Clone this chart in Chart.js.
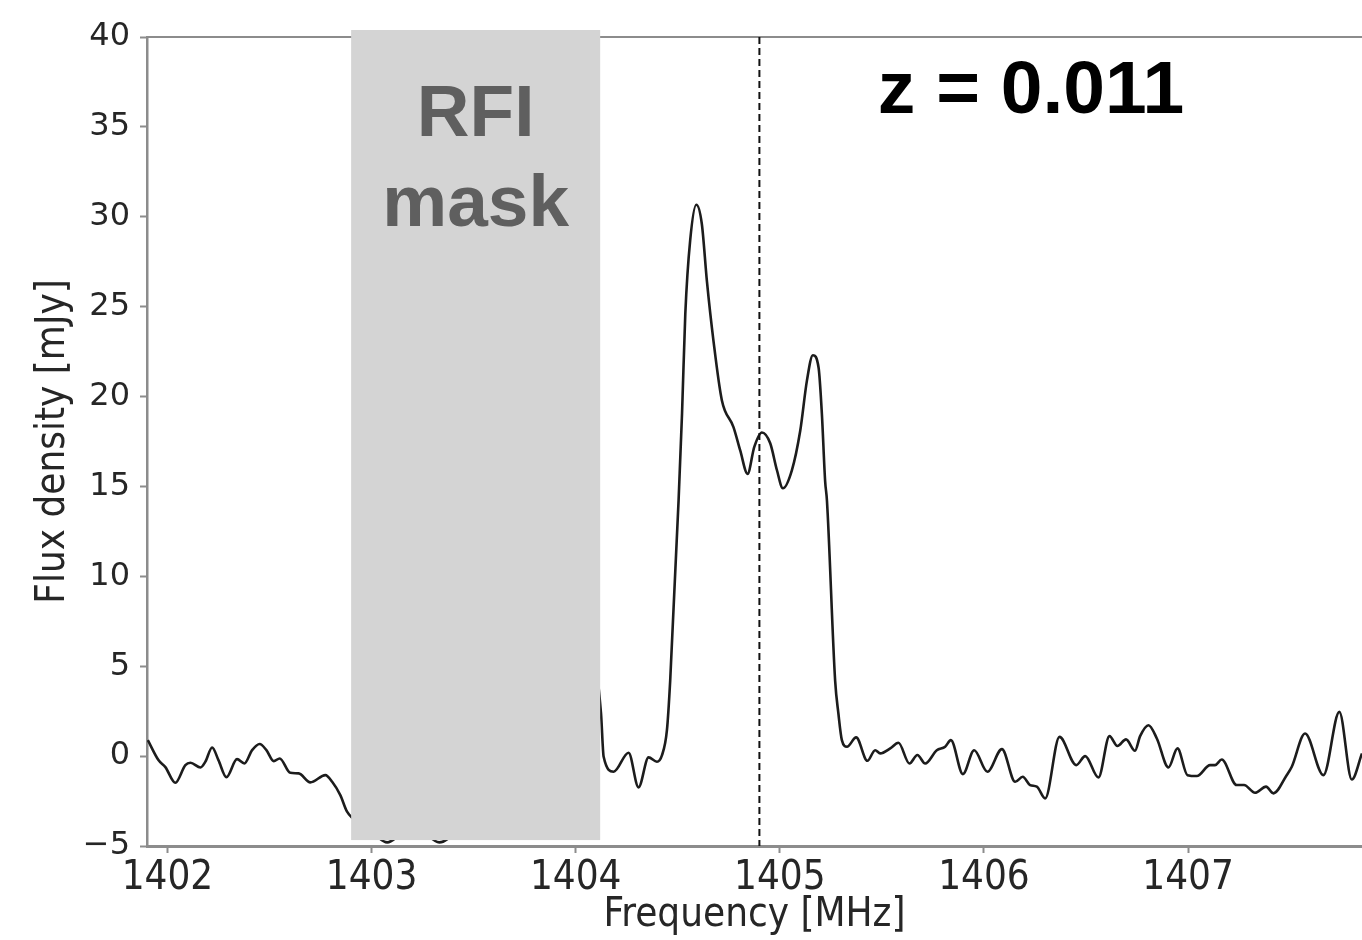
<!DOCTYPE html>
<html>
<head>
<meta charset="utf-8">
<script src="https://cdn.jsdelivr.net/npm/chart.js@4.4.1/dist/chart.umd.min.js"></script>
<style>
  html, body { margin: 0; padding: 0; background: #fff; }
  #wrap { width: 1362px; height: 940px; }
</style>
</head>
<body>
<div id="wrap"><canvas id="spectrum" width="1362" height="940"></canvas></div>
<script>
// frequency [MHz] and flux density [mJy]
const freq = [
  1401.904, 1401.956, 1401.990, 1402.039, 1402.088, 1402.113, 1402.162, 1402.186,
  1402.219, 1402.250, 1402.289, 1402.341, 1402.377, 1402.415, 1402.452, 1402.485,
  1402.521, 1402.550, 1402.602, 1402.643, 1402.700, 1402.774, 1402.807, 1402.847,
  1402.880, 1402.950, 1403.010, 1403.077, 1403.150, 1403.230, 1403.332, 1403.450,
  1403.600, 1403.750, 1403.900, 1404.020, 1404.090, 1404.124, 1404.137, 1404.186,
  1404.259, 1404.308, 1404.357, 1404.398, 1404.423, 1404.447, 1404.463, 1404.504,
  1404.521, 1404.537, 1404.561, 1404.591, 1404.618, 1404.643, 1404.675, 1404.716,
  1404.773, 1404.806, 1404.842, 1404.875, 1404.912, 1404.953, 1404.986, 1405.015,
  1405.059, 1405.100, 1405.133, 1405.162, 1405.190, 1405.206, 1405.222, 1405.231,
  1405.271, 1405.287, 1405.304, 1405.329, 1405.374, 1405.429, 1405.467, 1405.492,
  1405.541, 1405.581, 1405.635, 1405.674, 1405.712, 1405.769, 1405.810, 1405.838,
  1405.897, 1405.952, 1406.017, 1406.088, 1406.153, 1406.190, 1406.226, 1406.259,
  1406.300, 1406.370, 1406.452, 1406.496, 1406.561, 1406.615, 1406.654, 1406.696,
  1406.740, 1406.765, 1406.806, 1406.847, 1406.904, 1406.948, 1406.997, 1407.043,
  1407.108, 1407.132, 1407.165, 1407.238, 1407.274, 1407.328, 1407.382, 1407.418,
  1407.483, 1407.508, 1407.573, 1407.663, 1407.741, 1407.802, 1407.852
];
const flux = [
  0.89, -0.22, -0.61, -1.48, -0.50, -0.37, -0.63, -0.31,
  0.48, -0.22, -1.17, -0.17, -0.41, 0.33, 0.67, 0.33,
  -0.28, -0.13, -0.93, -0.96, -1.46, -1.06, -1.43, -2.17,
  -3.09, -3.80, -4.30, -4.80, -4.30, -4.10, -4.80, -3.80,
  -2.60, -1.80, -0.60, 2.00, 5.20, 2.39, -0.04, -0.87,
  0.19, -1.74, -0.07, -0.31, 0.06, 1.44, 4.20, 14.20,
  19.05, 24.60, 28.70, 30.67, 29.60, 26.40, 23.10, 19.80,
  18.30, 17.00, 15.70, 17.20, 18.00, 17.40, 15.90, 14.90,
  15.90, 18.10, 20.90, 22.30, 21.60, 19.05, 15.30, 14.20,
  4.20, 2.37, 0.89, 0.52, 1.04, -0.26, 0.33, 0.15,
  0.43, 0.74, -0.41, 0.06, -0.41, 0.33, 0.52, 0.89,
  -1.00, 0.33, -0.87, 0.39, -1.43, -1.15, -1.61, -1.70,
  -2.35, 1.07, -0.50, 0.00, -1.19, 1.11, 0.56, 0.93,
  0.30, 1.11, 1.72, 0.98, -0.63, 0.43, -1.06, -1.11,
  -0.50, -0.50, -0.19, -1.61, -1.61, -2.04, -1.70, -2.07,
  -1.06, -0.59, 1.26, -1.06, 2.46, -1.30, 0.15
];

const xTicks = [1402, 1403, 1404, 1405, 1406, 1407];
const yTicks = [-5, 0, 5, 10, 15, 20, 25, 30, 35, 40];

const maskRange = [1402.90, 1404.12];   // RFI mask, MHz
const maskFlux = [-4.67, 40.39];
const lineFreq = 1404.90;               // expected line at z = 0.011

const points = freq.map((f, i) => ({ x: f, y: flux[i] }));

const overlay = {
  id: 'overlay',
  beforeDatasetsDraw(chart) {
    const { ctx, chartArea } = chart;
    ctx.save();
    ctx.strokeStyle = '#8c8c8c';
    ctx.lineWidth = 2;
    ctx.beginPath();
    ctx.moveTo(chartArea.left, chartArea.top);
    ctx.lineTo(chartArea.right, chartArea.top);
    ctx.stroke();
    ctx.restore();
  },
  afterDatasetsDraw(chart) {
    const { ctx, scales: { x, y } } = chart;
    ctx.save();
    // gray RFI box drawn over the curve
    const x0 = x.getPixelForValue(maskRange[0]);
    const x1 = x.getPixelForValue(maskRange[1]);
    const y0 = y.getPixelForValue(maskFlux[1]);
    const y1 = y.getPixelForValue(maskFlux[0]);
    ctx.fillStyle = '#d4d4d4';
    ctx.fillRect(x0, y0, x1 - x0, y1 - y0);

    // dashed vertical line
    const lx = x.getPixelForValue(lineFreq);
    ctx.strokeStyle = '#111';
    ctx.lineWidth = 2;
    ctx.setLineDash([7, 4]);
    ctx.beginPath();
    ctx.moveTo(lx, y.getPixelForValue(40));
    ctx.lineTo(lx, y.getPixelForValue(-5));
    ctx.stroke();
    ctx.setLineDash([]);

    // labels
    ctx.fillStyle = '#5f5f5f';
    ctx.font = 'bold 73px "Liberation Sans", Arial, sans-serif';
    ctx.textAlign = 'center';
    ctx.textBaseline = 'alphabetic';
    const cx = (x0 + x1) / 2;
    ctx.fillText('RFI', cx, y.getPixelForValue(34.5));
    ctx.fillText('mask', cx, y.getPixelForValue(29.5));

    ctx.fillStyle = '#000';
    ctx.font = 'bold 75px "Liberation Sans", Arial, sans-serif';
    ctx.textAlign = 'left';
    ctx.fillText('z = 0.011', x.getPixelForValue(1405.48), y.getPixelForValue(35.8));
    ctx.restore();
  }
};

new Chart(document.getElementById('spectrum'), {
  type: 'line',
  data: {
    datasets: [{
      data: points,
      borderColor: '#1c1c1c',
      borderWidth: 2.6,
      pointRadius: 0,
      fill: false,
      cubicInterpolationMode: 'monotone'
    }]
  },
  options: {
    responsive: false,
    animation: false,
    layout: { padding: { top: 37, right: 0, left: 0, bottom: 0 } },
    plugins: {
      legend: { display: false },
      tooltip: { enabled: false }
    },
    scales: {
      x: {
        type: 'linear',
        min: 1401.9,
        max: 1407.852,
        afterFit: (scale) => { scale.height = 94; },
        afterBuildTicks: (scale) => { scale.ticks = xTicks.map(v => ({ value: v })); },
        border: { color: '#8c8c8c', width: 3 },
        grid: { drawOnChartArea: false, tickLength: 7, tickColor: '#8c8c8c', tickWidth: 2 },
        ticks: {
          color: '#262626',
          padding: 2,
          maxRotation: 0,
          font: { family: '"DejaVu Sans Condensed", "DejaVu Sans"', size: 40 },
          callback: (v) => String(v)
        },
        title: {
          display: true,
          text: 'Frequency [MHz]',
          color: '#262626',
          padding: { top: 0, bottom: 0 },
          font: { family: '"DejaVu Sans Condensed", "DejaVu Sans"', size: 40 }
        }
      },
      y: {
        min: -5,
        max: 40,
        afterFit: (scale) => { scale.width = 147; },
        afterBuildTicks: (scale) => { scale.ticks = yTicks.map(v => ({ value: v })); },
        border: { color: '#8c8c8c', width: 2.5 },
        grid: { drawOnChartArea: false, tickLength: 7, tickColor: '#8c8c8c', tickWidth: 2 },
        ticks: {
          color: '#262626',
          padding: 10,
          font: { family: '"DejaVu Sans"', size: 32 },
          callback: (v) => String(v).replace('-', '\u2212')
        },
        title: {
          display: true,
          text: 'Flux density [mJy]',
          color: '#262626',
          padding: { top: 30, bottom: 0 },
          font: { family: '"DejaVu Sans Condensed", "DejaVu Sans"', size: 40 }
        }
      }
    }
  },
  plugins: [overlay]
});
</script>
</body>
</html>
